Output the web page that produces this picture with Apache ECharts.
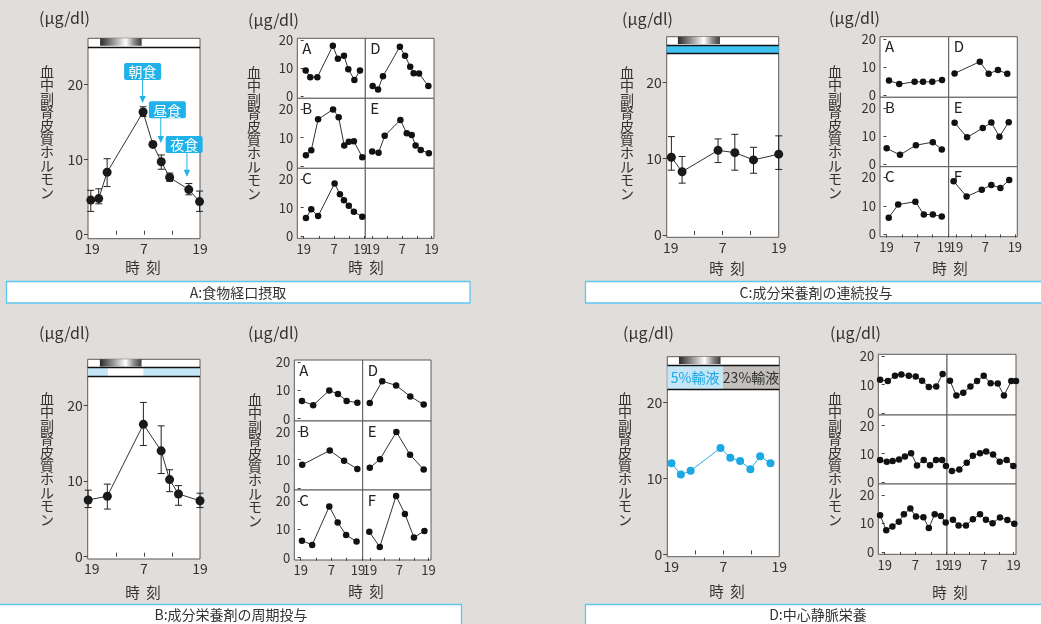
<!DOCTYPE html>
<html><head><meta charset="utf-8">
<script src="https://cdn.jsdelivr.net/npm/echarts@6/dist/echarts.min.js"></script>
<style>html,body{margin:0;padding:0;background:#e1ddda}#c{width:1041px;height:624px}</style>
</head><body><div id="c"></div>
<script>
// ---------- tick labels ----------
const hourTicks = [0, 12, 24];
const hourTickText = ['19', '7', '19'];
const valueTicks = [0, 10, 20];

// ---------- A: 食物経口摂取 ----------
const aHours = [0.6, 2.3, 4.1, 11.8, 13.9, 15.7, 17.5, 21.6, 23.9];
const aVals  = [4.6, 4.8, 8.3, 16.3, 12.0, 9.7, 7.6, 6.0, 4.4];
const aErrHi = [5.9, 6.1, 10.1, 17.0, null, 10.6, 8.2, 6.8, 5.8];
const aErrLo = [3.1, 4.1, 6.4, 15.7, null, 8.7, 7.1, 5.3, 3.1];
const aNight = [2.6, 11.5];
const aMeals = ['朝食', '昼食', '夜食'];
const aMealHours = [11.7, 15.6, 21.2];
const aMealTip = [17.5, 12.2, 7.7];
const aMealBoxHours = [11.7, 17.0, 20.6];
const aMealBoxVals = [21.7, 16.6, 12.0];

const aSmAh = [0.8, 2.6, 5.4, 11.5, 13.5, 15.9, 17.6, 20.0, 22.2];
const aSmAv = [9.2, 6.8, 6.8, 18.1, 13.4, 14.5, 9.7, 5.8, 9.2];
const aSmBh = [0.9, 3.0, 5.7, 11.6, 13.8, 16.0, 17.8, 19.8, 23.1];
const aSmBv = [3.8, 5.5, 16.4, 19.9, 17.1, 7.2, 8.5, 8.7, 3.1];
const aSmCh = [0.9, 3.0, 5.7, 12.2, 14.3, 15.9, 17.8, 19.8, 23.1];
const aSmCv = [6.3, 9.4, 7.0, 18.5, 14.7, 12.6, 10.6, 8.5, 6.8];
const aSmDh = [0.0, 2.2, 4.2, 11.1, 13.2, 15.3, 16.7, 18.9, 22.7];
const aSmDv = [3.6, 2.4, 7.1, 17.8, 14.5, 10.6, 8.2, 8.1, 3.6];
const aSmEh = [-0.2, 2.4, 4.9, 11.3, 13.9, 15.9, 17.5, 19.6, 22.9];
const aSmEv = [5.1, 4.7, 10.6, 16.2, 11.5, 10.9, 7.2, 5.6, 4.5];

// ---------- B: 成分栄養剤の周期投与 ----------
const bHours = [0.1, 4.2, 11.9, 15.7, 17.5, 19.4, 24.0];
const bVals  = [7.5, 8.0, 17.5, 14.0, 10.2, 8.3, 7.4];
const bErrHi = [8.8, 9.6, 20.4, 17.3, 11.5, 9.4, 8.4];
const bErrLo = [6.5, 6.3, 14.7, 11.0, 8.6, 6.8, 6.5];
const bNight = [2.6, 11.5];
const bInfusion = [[0, 4.3], [11.9, 24]];

const bSmAh = [0.5, 4.9, 11.2, 14.6, 18.0, 22.2];
const bSmAv = [6.3, 4.8, 10.0, 8.8, 6.3, 5.7];
const bSmBh = [0.6, 11.4, 17.0, 22.2];
const bSmBv = [8.2, 13.3, 9.6, 6.7];
const bSmCh = [0.5, 4.5, 11.2, 14.5, 17.8, 21.9];
const bSmCv = [6.0, 4.5, 18.0, 12.4, 8.0, 5.7];
const bSmDh = [-0.1, 5.0, 10.7, 16.5, 22.0];
const bSmDv = [5.6, 13.3, 11.8, 7.9, 5.0];
const bSmEh = [-0.1, 4.1, 10.8, 16.4, 22.0];
const bSmEv = [7.1, 10.2, 19.9, 11.8, 6.5];
const bSmFh = [-0.3, 4.0, 10.7, 14.3, 18.0, 22.3];
const bSmFv = [9.1, 3.8, 21.7, 15.4, 7.1, 9.4];

// ---------- C: 成分栄養剤の連続投与 ----------
const cHours = [1.0, 3.3, 11.0, 14.6, 18.6, 24.0];
const cVals  = [10.2, 8.3, 11.1, 10.8, 9.85, 10.6];
const cErrHi = [12.9, 10.3, 12.6, 13.2, 11.5, 13.0];
const cErrLo = [8.5, 6.8, 9.5, 8.5, 8.1, 8.6];
const cNight = [2.4, 11.4];
const cInfusion = [[0, 24]];

const cSmAh = [1.0, 5.0, 11.0, 14.3, 17.9, 21.7];
const cSmAv = [5.2, 3.9, 4.7, 4.7, 4.7, 5.4];
const cSmBh = [0.1, 5.3, 11.5, 18.1, 21.6];
const cSmBv = [5.7, 3.4, 6.8, 7.9, 5.3];
const cSmCh = [0.9, 4.6, 11.3, 14.6, 18.1, 21.6];
const cSmCv = [5.9, 10.5, 11.5, 7.0, 7.0, 6.3];
const cSmDh = [-0.6, 9.7, 13.3, 17.1, 20.9];
const cSmDv = [7.7, 11.9, 7.6, 8.9, 7.6];
const cSmEh = [-0.6, 4.5, 10.9, 14.4, 17.7, 21.5];
const cSmEv = [14.8, 9.6, 12.9, 14.9, 9.8, 15.0];
const cSmFh = [-1.0, 4.3, 10.5, 14.4, 18.1, 21.7];
const cSmFv = [18.7, 13.3, 15.7, 17.4, 16.3, 19.1];

// ---------- D: 中心静脈栄養 ----------
const dHours = [0.9, 2.9, 5.0, 11.4, 13.5, 15.6, 17.8, 19.9, 22.1];
const dVals  = [12.0, 10.5, 11.0, 14.0, 12.7, 12.3, 11.2, 12.9, 12.0];
const dNight = [2.5, 11.4];
const dSolutions = ['5%輸液', '23%輸液'];
const dSolutionPeriods = [[0, 11.9], [11.9, 24]];

const dSmR1Lh = [-1.8, 1.2, 4.0, 6.5, 9.4, 12.1, 14.6, 17.2, 20.1, 22.6];
const dSmR1Lv = [11.7, 11.3, 13.2, 13.6, 13.2, 12.9, 11.4, 9.2, 9.3, 13.8];
const dSmR1Rh = [-1.8, 0.8, 3.6, 6.5, 9.2, 11.9, 14.7, 17.6, 20.1, 23.1, 25.0];
const dSmR1Rv = [11.4, 6.1, 7.1, 9.3, 11.3, 13.2, 10.5, 10.4, 6.1, 11.3, 11.3];
const dSmR2Lh = [-1.8, 0.8, 3.1, 5.6, 7.9, 10.3, 12.6, 15.2, 17.7, 20.0, 22.4, 23.9];
const dSmR2Lv = [7.8, 7.1, 7.4, 7.9, 9.0, 10.2, 5.8, 7.8, 5.9, 7.8, 7.8, 5.6];
const dSmR2Rh = [-1.0, 2.0, 5.0, 7.5, 10.4, 12.9, 15.7, 18.4, 21.2, 23.9];
const dSmR2Rv = [3.8, 4.4, 6.8, 9.3, 10.2, 10.8, 9.7, 7.1, 7.8, 5.6];
const dSmR3Lh = [-1.8, 0.6, 3.0, 5.5, 7.5, 10.0, 12.2, 15.1, 17.2, 19.5, 21.9, 23.8];
const dSmR3Lv = [12.9, 7.6, 8.9, 10.6, 13.2, 15.2, 12.4, 12.2, 8.4, 13.2, 12.6, 10.3];
const dSmR3Rh = [-0.6, 1.7, 4.7, 7.5, 10.4, 12.8, 15.5, 18.5, 21.5, 24.3];
const dSmR3Rv = [11.3, 9.3, 9.3, 11.5, 13.2, 11.3, 10.1, 12.1, 11.2, 9.9];

// ---------- texts ----------
const unitText = '(μg/dl)';
const yNameText = '血中副腎皮質ホルモン';
const xNameText = '時  刻';
const captions = ['A:食物経口摂取', 'B:成分栄養剤の周期投与', 'C:成分栄養剤の連続投与', 'D:中心静脈栄養'];

// =================== layout / styling ===================
const FF = "'Noto Sans CJK JP','Noto Sans',sans-serif";
const TXT = '#333';
const MINI_X = [[-2.5, 24.3], [-3, 25]];
const MINI_Y = [[-0.8, 20.8], [-0.8, 23.8], [-0.8, 23.8]];
const nightGrad = {type: 'linear', x: 0, y: 0, x2: 1, y2: 0, colorStops: [
  {offset: 0, color: '#2a2a2a'}, {offset: 0.3, color: '#8e8e8e'}, {offset: 0.62, color: '#ffffff'},
  {offset: 0.82, color: '#8a8a8a'}, {offset: 1, color: '#3a3a3a'}]};

const option = {backgroundColor: '#e1ddda', animation: false, grid: [], xAxis: [], yAxis: [], series: [], graphic: {elements: []}};
const G = option.graphic.elements;

function text(x, y, str, size, opt) {
  opt = opt || {};
  G.push({type: 'text', x: x, y: y, silent: true, z: 100, style: {
    text: str, font: (opt.weight || 'normal') + ' ' + size + 'px ' + FF, fill: opt.color || TXT,
    textAlign: opt.align || 'left', align: opt.align || 'left',
    textVerticalAlign: opt.valign || 'middle', verticalAlign: opt.valign || 'middle',
    lineHeight: opt.lh || size}});
}
function addGrid(b) {
  const i = option.grid.length;
  option.grid.push({left: b.x0, top: b.y0, width: b.x1 - b.x0, height: b.y1 - b.y0, show: true,
    backgroundColor: '#fff', borderColor: '#5a5a5a', borderWidth: 1, containLabel: false, outerBoundsMode: 'none'});
  return i;
}
function lineSeries(gi, hours, vals, size, lineColor, dotColor) {
  return {type: 'line', xAxisIndex: gi, yAxisIndex: gi, data: hours.map((h, i) => [h, vals[i]]),
    symbol: 'circle', symbolSize: size, clip: false, silent: true, emphasis: {disabled: true},
    lineStyle: {color: lineColor, width: 1}, itemStyle: {color: dotColor}, z: 3};
}
function errSeries(gi, hours, lo, hi) {
  const data = [];
  hours.forEach((h, i) => { if (lo[i] != null) data.push([h, lo[i], hi[i]]); });
  return {type: 'custom', xAxisIndex: gi, yAxisIndex: gi, data: data, clip: false, silent: true, z: 2,
    renderItem: (p, api) => {
      const a = api.coord([api.value(0), api.value(1)]);
      const b = api.coord([api.value(0), api.value(2)]);
      const w = 3.5, st = {stroke: '#222', lineWidth: 1};
      return {type: 'group', children: [
        {type: 'line', shape: {x1: a[0], y1: a[1], x2: b[0], y2: b[1]}, style: st},
        {type: 'line', shape: {x1: a[0] - w, y1: a[1], x2: a[0] + w, y2: a[1]}, style: st},
        {type: 'line', shape: {x1: b[0] - w, y1: b[1], x2: b[0] + w, y2: b[1]}, style: st}]};
    }};
}

function addMain(L, hours, vals, lo, hi, hdr, lineColor, dotColor, dotSize) {
  const gi = addGrid(L);
  option.xAxis.push({gridIndex: gi, type: 'value', min: 0, max: 24, axisLine: {show: false}, splitLine: {show: false},
    axisTick: {show: true, inside: true, length: 4, customValues: [6, 12, 18], lineStyle: {color: '#444'}},
    axisLabel: {customValues: hourTicks, margin: 3, fontSize: 14, color: TXT, fontFamily: FF,
      formatter: v => { const t = hourTickText[hourTicks.indexOf(v)]; return v === 0 ? '{l|' + t + '}' : t; },
      rich: {l: {padding: [0, 0, 0, 8], fontSize: 14, color: TXT, fontFamily: FF}}}});
  option.yAxis.push({gridIndex: gi, type: 'value', min: L.yMin, max: L.yMax, axisLine: {show: false}, splitLine: {show: false},
    axisTick: {show: true, length: 4, customValues: valueTicks, lineStyle: {color: '#444'}},
    axisLabel: {customValues: valueTicks, margin: 5, fontSize: 14, color: TXT, fontFamily: FF}});
  const areas = [[{xAxis: hdr.night[0], yAxis: hdr.nightY[0], itemStyle: {color: nightGrad, opacity: 1}},
                  {xAxis: hdr.night[1], yAxis: hdr.nightY[1]}]];
  (hdr.bands || []).forEach(b => {
    areas.push([{xAxis: b.from, yAxis: b.y0, name: b.name || '',
      itemStyle: {color: b.color, opacity: 1},
      label: {show: !!b.name, position: 'inside', color: b.labelColor || TXT, fontSize: 14, fontFamily: FF}},
      {xAxis: b.to, yAxis: b.y1}]);
  });
  const s = lineSeries(gi, hours, vals, dotSize, lineColor, dotColor);
  s.markArea = {silent: true, z: 1, label: {show: false}, data: areas};
  s.markLine = {silent: true, symbol: ['none', 'none'], label: {show: false},
    lineStyle: {color: '#111', width: 1.3, type: 'solid'}, data: hdr.lines.map(v => ({yAxis: v}))};
  option.series.push(s);
  if (lo) option.series.push(errSeries(gi, hours, lo, hi));
  return gi;
}

function addMini(L, cells) {
  for (let r = 0; r < 3; r++) for (let c = 0; c < 2; c++) {
    const box = {x0: L.cols[c], x1: L.cols[c + 1], y0: L.rows[r], y1: L.rows[r + 1]};
    const gi = addGrid(box);
    const xr = MINI_X[c], yr = MINI_Y[r];
    option.xAxis.push({gridIndex: gi, type: 'value', min: xr[0], max: xr[1], axisLine: {show: false}, splitLine: {show: false},
      axisTick: {show: r === 2, length: 3, customValues: [0, 6, 12, 18, 24], lineStyle: {color: '#444'}},
      axisLabel: {show: r === 2, customValues: hourTicks, margin: 4, fontSize: 13, color: TXT, fontFamily: FF,
        formatter: v => { const t = hourTickText[hourTicks.indexOf(v)]; return (c === 0 && v === 24) ? '{r|' + t + '}' : t; },
        rich: {r: {padding: [0, 8, 0, 0], fontSize: 13, color: TXT, fontFamily: FF}}}});
    option.yAxis.push({gridIndex: gi, type: 'value', min: yr[0], max: yr[1], axisLine: {show: false}, splitLine: {show: false},
      axisTick: {show: c === 0, length: 3, customValues: valueTicks, lineStyle: {color: '#444'}},
      axisLabel: {show: c === 0, customValues: valueTicks, margin: 4, fontSize: 13, color: TXT, fontFamily: FF}});
    const cell = cells.find(e => e.col === c && e.row === r);
    if (cell) {
      option.series.push(lineSeries(gi, cell.h, cell.v, 6.5, '#333', '#111'));
      if (cell.label) text(box.x0 + 5, box.y0 + 10, cell.label, 15, {color: '#222'});
    }
  }
}

// ---------- main panels ----------
addMain({x0: 88, x1: 200, y0: 38.3, y1: 238.7, yMin: -0.53, yMax: 26.1}, aHours, aVals, aErrLo, aErrHi,
  {night: aNight, nightY: [25.1, 26.1], lines: [24.9]}, '#333', '#1a1a1a', 9);
const giA = option.grid.length - 1;
option.series.push({type: 'custom', xAxisIndex: giA, yAxisIndex: giA, clip: false, silent: true, z: 5,
  data: aMeals.map((n, i) => [aMealHours[i], aMealTip[i], aMealBoxHours[i], aMealBoxVals[i]]),
  renderItem: (p, api) => {
    const tip = api.coord([api.value(0), api.value(1)]);
    const bx = api.coord([api.value(2), api.value(3)]);
    const col = '#1fb1e7';
    return {type: 'group', children: [
      {type: 'line', shape: {x1: tip[0], y1: bx[1] + 8, x2: tip[0], y2: tip[1] - 5}, style: {stroke: col, lineWidth: 1}},
      {type: 'polygon', shape: {points: [[tip[0] - 3.2, tip[1] - 7], [tip[0] + 3.2, tip[1] - 7], [tip[0], tip[1]]]}, style: {fill: col}},
      {type: 'rect', shape: {x: bx[0] - 18.5, y: bx[1] - 8.5, width: 37, height: 17, r: 2}, style: {fill: col}},
      {type: 'text', style: {x: bx[0], y: bx[1] + 0.5, text: aMeals[p.dataIndex], fill: '#fff', font: '14px ' + FF,
        align: 'center', verticalAlign: 'middle', textAlign: 'center', textVerticalAlign: 'middle'}}]};
  }});

addMain({x0: 87.7, x1: 200, y0: 359.3, y1: 559, yMin: -0.3, yMax: 26.1}, bHours, bVals, bErrLo, bErrHi,
  {night: bNight, nightY: [25.15, 26.1], lines: [25.0, 23.8],
   bands: bInfusion.map(p => ({from: p[0], to: p[1], y0: 23.8, y1: 25.0, color: '#c6e7f7'}))},
  '#333', '#1a1a1a', 9);

addMain({x0: 666.7, x1: 778.7, y0: 36.7, y1: 237.3, yMin: -0.3, yMax: 26.0}, cHours, cVals, cErrLo, cErrHi,
  {night: cNight, nightY: [25.05, 26.0], lines: [24.9, 23.8],
   bands: cInfusion.map(p => ({from: p[0], to: p[1], y0: 23.8, y1: 24.9, color: '#3fc3f2'}))},
  '#333', '#1a1a1a', 9);

addMain({x0: 667.3, x1: 779.3, y0: 356.7, y1: 556.7, yMin: -0.3, yMax: 26.0}, dHours, dVals, null, null,
  {night: dNight, nightY: [25.05, 26.0], lines: [24.9, 21.7],
   bands: [
     {from: dSolutionPeriods[0][0], to: dSolutionPeriods[0][1], y0: 21.7, y1: 24.9, color: '#c4e6f6', name: dSolutions[0], labelColor: '#1ea7e1'},
     {from: dSolutionPeriods[1][0], to: dSolutionPeriods[1][1], y0: 21.7, y1: 24.9, color: '#c2bfbd', name: dSolutions[1], labelColor: '#333'}]},
  '#29aee6', '#1aa9e5', 8);

// ---------- small multiples ----------
addMini({cols: [297.3, 365.3, 434], rows: [38.3, 98.3, 168.3, 238.3]}, [
  {col: 0, row: 0, label: 'A', h: aSmAh, v: aSmAv}, {col: 0, row: 1, label: 'B', h: aSmBh, v: aSmBv},
  {col: 0, row: 2, label: 'C', h: aSmCh, v: aSmCv}, {col: 1, row: 0, label: 'D', h: aSmDh, v: aSmDv},
  {col: 1, row: 1, label: 'E', h: aSmEh, v: aSmEv}]);
addMini({cols: [294.3, 362.7, 431], rows: [360, 421, 490, 560]}, [
  {col: 0, row: 0, label: 'A', h: bSmAh, v: bSmAv}, {col: 0, row: 1, label: 'B', h: bSmBh, v: bSmBv},
  {col: 0, row: 2, label: 'C', h: bSmCh, v: bSmCv}, {col: 1, row: 0, label: 'D', h: bSmDh, v: bSmDv},
  {col: 1, row: 1, label: 'E', h: bSmEh, v: bSmEv}, {col: 1, row: 2, label: 'F', h: bSmFh, v: bSmFv}]);
addMini({cols: [880, 948.7, 1017.3], rows: [36.7, 97.3, 166.7, 236.7]}, [
  {col: 0, row: 0, label: 'A', h: cSmAh, v: cSmAv}, {col: 0, row: 1, label: 'B', h: cSmBh, v: cSmBv},
  {col: 0, row: 2, label: 'C', h: cSmCh, v: cSmCv}, {col: 1, row: 0, label: 'D', h: cSmDh, v: cSmDv},
  {col: 1, row: 1, label: 'E', h: cSmEh, v: cSmEv}, {col: 1, row: 2, label: 'F', h: cSmFh, v: cSmFv}]);
addMini({cols: [878.3, 947, 1016], rows: [354.3, 415, 484, 554.3]}, [
  {col: 0, row: 0, h: dSmR1Lh, v: dSmR1Lv}, {col: 1, row: 0, h: dSmR1Rh, v: dSmR1Rv},
  {col: 0, row: 1, h: dSmR2Lh, v: dSmR2Lv}, {col: 1, row: 1, h: dSmR2Rh, v: dSmR2Rv},
  {col: 0, row: 2, h: dSmR3Lh, v: dSmR3Lv}, {col: 1, row: 2, h: dSmR3Rh, v: dSmR3Rv}]);

// ---------- decorations: units, axis names ----------
[[39, 18], [248, 20], [622, 19], [829, 18], [39, 333], [248, 333], [623, 333], [830, 333]]
  .forEach(p => text(p[0], p[1], unitText, 16));
const vName = yNameText.split('').join('\n');
[[47, 65], [254, 66], [627, 66], [835, 65], [47, 392], [255, 393], [625, 392], [835, 392]]
  .forEach(p => text(p[0], p[1], vName, 14, {align: 'center', valign: 'top', lh: 13.4}));
[[143, 267], [366, 267], [727, 268], [950, 268], [143, 592], [366, 591], [727, 591], [950, 592]]
  .forEach(p => text(p[0], p[1], xNameText, 14.5, {align: 'center'}));

// ---------- caption boxes ----------
const capBoxes = [[6.5, 281.5, 463.5, 21.5], [-2, 604.5, 463.5, 30], [585.5, 281.5, 470, 21.5], [585.5, 604.5, 470, 30]];
const capText = [[238, 292.5], [231, 614.5], [816, 292.5], [818, 614.5]];
capBoxes.forEach((b, i) => {
  G.push({type: 'rect', silent: true, z: 90, shape: {x: b[0], y: b[1], width: b[2], height: b[3]},
    style: {fill: '#fff', stroke: '#5ec6ef', lineWidth: 1.3}});
  text(capText[i][0], capText[i][1], captions[i], 14, {align: 'center'});
});

const chart = echarts.init(document.getElementById('c'), null, {renderer: 'canvas'});
chart.setOption(option);
</script></body></html>
